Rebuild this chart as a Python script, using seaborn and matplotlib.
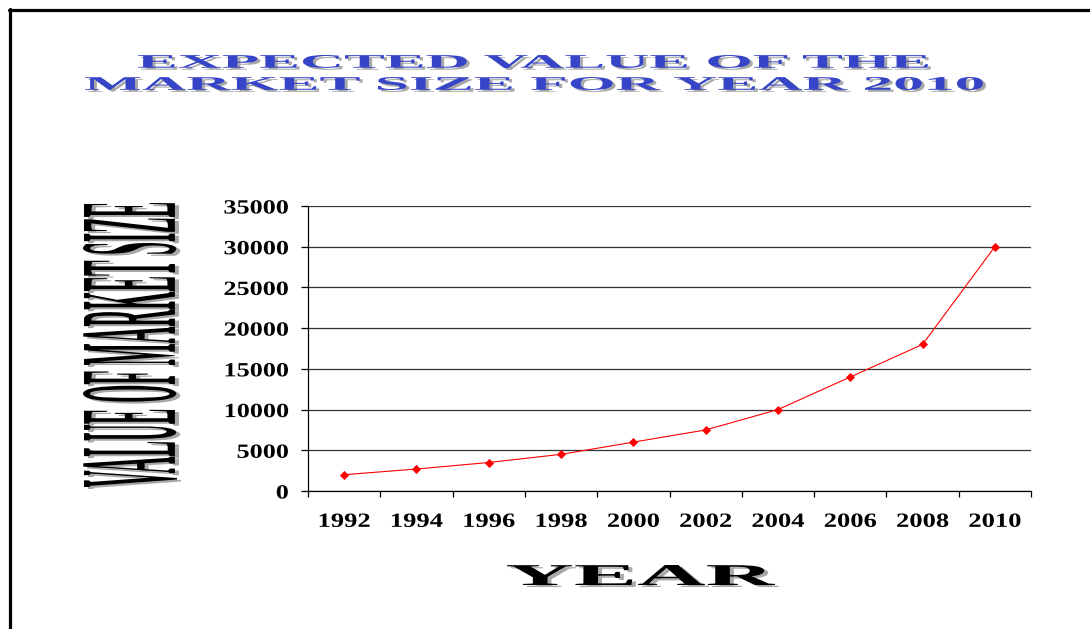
import matplotlib
matplotlib.use('Agg')
import matplotlib.pyplot as plt
import matplotlib.colors as mcolors
from matplotlib.lines import Line2D
from matplotlib.patheffects import AbstractPathEffect
from matplotlib.transforms import Affine2D
from matplotlib.ticker import FixedLocator
import seaborn as sns

# data
years = ['1992', '1994', '1996', '1998', '2000', '2002', '2004', '2006', '2008', '2010']
market_size = [2000, 2700, 3500, 4500, 6000, 7500, 10000, 14000, 18000, 30000]
y_ticks = [0, 5000, 10000, 15000, 20000, 25000, 30000, 35000]

title_lines = ['EXPECTED VALUE OF THE', 'MARKET SIZE FOR YEAR 2010']
x_title = 'YEAR'
y_title = 'VALUE OF MARKET SIZE'

W, H = 1090, 629


class FitBox(AbstractPathEffect):
    """draws the text glyphs stretched into a pixel box (top-left origin), with a drop shadow"""

    def __init__(self, box, shadow='#a8a8a8', off=(3, 2)):
        super().__init__()
        self.box = box
        self.shadow = mcolors.to_rgba(shadow) if shadow else None
        self.off = off

    def draw_path(self, renderer, gc, tpath, affine, rgbFace=None):
        ext = tpath.get_extents(affine)
        x0, y0, x1, y1 = self.box
        t = (Affine2D().translate(-ext.x0, -ext.y1)
             .scale((x1 - x0) / ext.width, (y1 - y0) / ext.height)
             .translate(x0, renderer.height - y0))
        if self.shadow is not None:
            g = renderer.new_gc()
            g.copy_properties(gc)
            st = t + Affine2D().translate(self.off[0], -self.off[1])
            renderer.draw_path(g, tpath, affine + st, self.shadow)
            g.restore()
        renderer.draw_path(gc, tpath, affine + t, rgbFace)


class Widen(AbstractPathEffect):
    """widens glyphs horizontally, keeping the right edge or the centre fixed"""

    def __init__(self, sx, anchor='center'):
        super().__init__()
        self.sx = sx
        self.anchor = anchor

    def draw_path(self, renderer, gc, tpath, affine, rgbFace=None):
        ext = tpath.get_extents(affine)
        cx = ext.x1 if self.anchor == 'right' else (ext.x0 + ext.x1) / 2
        t = Affine2D().translate(-cx, 0).scale(self.sx, 1).translate(cx, 0)
        renderer.draw_path(gc, tpath, affine + t, rgbFace)


sns.set_theme(style='white')
plt.rcParams['font.family'] = ['Liberation Serif', 'DejaVu Serif']

fig = plt.figure(figsize=(W / 100, H / 100), dpi=100)
ax = fig.add_axes([308 / W, 1 - 491 / H, 723 / W, 285 / H])

sns.pointplot(x=years, y=market_size, color='#ff0000', markers='D',
              markersize=4.2, linewidth=0.8, errorbar=None, ax=ax)

ax.set_xlim(-0.5, len(years) - 0.5)
ax.set_ylim(0, 35000)
ax.set_yticks(y_ticks)
ax.yaxis.grid(True, color='#333333', linewidth=0.9)
ax.set_axisbelow(True)
ax.set_xlabel('')
ax.set_ylabel('')

for s in ['top', 'right']:
    ax.spines[s].set_visible(False)
for s in ['left', 'bottom']:
    ax.spines[s].set_color('black')
    ax.spines[s].set_linewidth(0.9)

# category ticks sit between the years
ax.xaxis.set_minor_locator(FixedLocator([i - 0.5 for i in range(len(years) + 1)]))
ax.tick_params(axis='x', which='major', length=0, pad=15)
ax.tick_params(axis='x', which='minor', bottom=True, length=4.5, width=0.9, color='black')
ax.tick_params(axis='y', which='major', left=True, length=5, width=0.9, color='black', pad=9)

for lab in ax.get_xticklabels():
    lab.set_fontsize(14.5)
    lab.set_fontweight('bold')
    lab.set_color('black')
    lab.set_path_effects([Widen(1.32)])
for lab in ax.get_yticklabels():
    lab.set_fontsize(14.5)
    lab.set_fontweight('bold')
    lab.set_color('black')
    lab.set_path_effects([Widen(1.3, 'right')])

# title in two lines, wide blue letters with grey shadow
fig.text(533 / W, 1 - 62 / H, title_lines[0], ha='center', va='center',
         fontsize=15, fontweight='bold', color='#3644c8',
         path_effects=[FitBox((138, 55, 928, 68), off=(3, 2))])
fig.text(534 / W, 1 - 83 / H, title_lines[1], ha='center', va='center',
         fontsize=15, fontweight='bold', color='#3644c8',
         path_effects=[FitBox((85, 77, 983, 90), off=(3, 2))])

# axis titles
fig.text(641 / W, 1 - 575 / H, x_title, ha='center', va='center',
         fontsize=16, fontweight='bold', color='black',
         path_effects=[FitBox((507, 565, 775, 585), off=(4, 2))])
fig.text(130 / W, 1 - 345 / H, y_title, rotation=90, ha='center', va='center',
         fontsize=16, fontweight='bold', color='black',
         path_effects=[FitBox((83, 203, 177, 487), off=(4, 2))])

# page frame, cut off at the right and bottom
fig.add_artist(Line2D([9.8 / W, 9.8 / W], [1 - 8.5 / H, 0], transform=fig.transFigure,
                      color='black', linewidth=2.3))
fig.add_artist(Line2D([8.5 / W, 1], [1 - 9.8 / H, 1 - 9.8 / H], transform=fig.transFigure,
                      color='black', linewidth=2.3))

fig.savefig('out.png', dpi=100)
